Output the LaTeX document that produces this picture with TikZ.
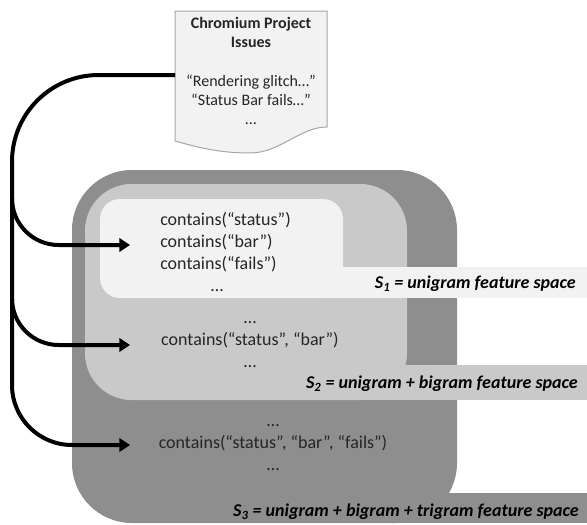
\documentclass[tikz,border=0pt]{standalone}
\usepackage{fontspec}
\setmainfont{Carlito}
\usepackage{xcolor}
\usetikzlibrary{arrows.meta}

\definecolor{paleGray}{HTML}{F2F2F2}
\definecolor{midGray}{HTML}{C9C9C9}
\definecolor{darkGray}{HTML}{8E8E8E}
\definecolor{docBorder}{HTML}{A6A6A6}
\definecolor{featText}{HTML}{262626}

\begin{document}
\begin{tikzpicture}[x=0.75pt,y=0.75pt,yscale=-1,xscale=1,
  feat/.style={font=\fontsize{13.5}{16.5}\selectfont,text=featText,inner sep=0.75pt},
  spacelabel/.style={font=\fontsize{13.5}{16}\selectfont\bfseries\itshape,text=black,inner sep=0.75pt,anchor=east},
  feed/.style={line width=3pt,-{Triangle[length=8pt,width=10pt]}}]
\useasboundingbox (0,0) rectangle (587,525);

%Shape: Rounded Rect (trigram space)
\fill [darkGray,rounded corners=45] (72,170) rectangle (457,523) ;
\fill [darkGray] (300,493) rectangle (587,523) ;
%Shape: Rounded Rect (bigram space)
\fill [midGray,rounded corners=35] (85,184) rectangle (407,400) ;
\fill [midGray] (300,365) rectangle (587,400) ;
%Shape: Rounded Rect (unigram space)
\fill [paleGray,rounded corners=15] (100,199) rectangle (343,298) ;
\fill [paleGray] (300,267) rectangle (587,298) ;

%Shape: Document
\draw [draw=docBorder,fill=paleGray,line width=0.75pt] (175,11) -- (327,11) -- (327,127) .. controls (300,127) and (280,153) .. (250,153) .. controls (220,153) and (200,148) .. (175,141) -- cycle ;

% Text Node
\draw (251,71) node [anchor=center][inner sep=0.75pt][align=center][font=\fontsize{12}{14.4}\selectfont][text=featText] (issues) {\textbf{Chromium Project}\\\textbf{Issues}\\[14.4pt]“Rendering glitch…”\\“Status Bar fails…”\\…};
% Text Node
\draw (159,252) node [anchor=west][feat][align=left] (uni) {contains(“status”)\\contains(“bar”)\\contains(“fails”)\\\hspace*{38pt}…};
% Text Node
\draw (250,345) node [anchor=center][feat][align=center] (bi) {…\\contains(“status”, “bar”)\\…};
% Text Node
\draw (273,448) node [anchor=center][feat][align=center] (tri) {…\\contains(“status”, “bar”, “fails”)\\…};
% Text Node
\draw (577,284) node [spacelabel] (uniLabel) {S\textsubscript{1} = unigram feature space};
% Text Node
\draw (579,384) node [spacelabel] (biLabel) {S\textsubscript{2} = unigram + bigram feature space};
% Text Node
\draw (580,512) node [spacelabel] (triLabel) {S\textsubscript{3} = unigram + bigram + trigram feature space};

%Connectors
\coordinate (docOut) at (175,75);
\coordinate (uniIn) at (130,245);
\coordinate (biIn) at (130,345);
\coordinate (triIn) at (130,445);
\draw [feed,rounded corners=65] (docOut) -| (12,300) [rounded corners=45] |- (triIn) ;
\draw [feed,rounded corners=35] (12,200) |- (uniIn) ;
\draw [feed,rounded corners=35] (12,300) |- (biIn) ;

\end{tikzpicture}
\end{document}
